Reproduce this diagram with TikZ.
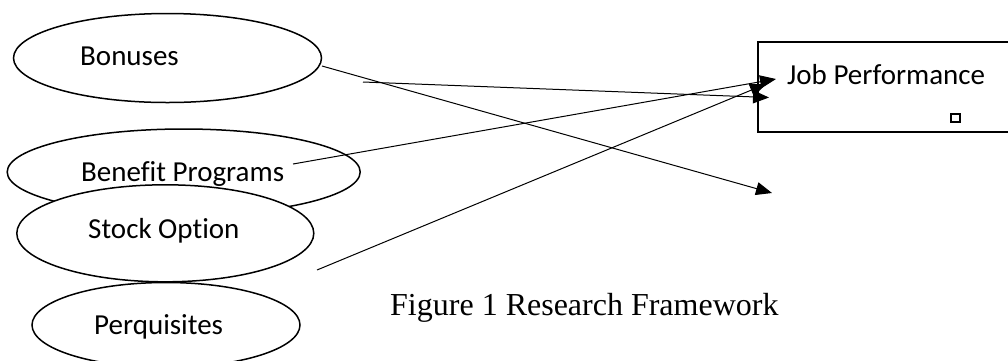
\documentclass[tikz,border=0pt]{standalone}
\usepackage{fontspec}
\setmainfont{Liberation Serif}
\newfontfamily\calib[Ligatures=NoCommon]{Carlito}
\usetikzlibrary{shapes.geometric,arrows.meta}
\begin{document}
\begin{tikzpicture}[x=1pt,y=-1pt,
  oval/.style={ellipse,draw,line width=1.5pt,fill=white,inner sep=0pt},
  lbl/.style={anchor=base west,inner sep=0pt,font=\calib\fontsize{29}{34}\selectfont},
  link/.style={line width=1pt,-{Triangle[length=16pt,width=13pt]}}]
\useasboundingbox (0,0) rectangle (1008,360);
\clip (0,0) rectangle (1008,360);
% ovals
\node[oval,minimum width=353pt,minimum height=86pt] (ben) at (183.7,172) {};
\node[oval,minimum width=297pt,minimum height=97pt] (sto) at (165.3,233.3) {};
\node[oval,minimum width=268pt,minimum height=85pt] (per) at (166,325) {};
\node[oval,minimum width=308pt,minimum height=89pt] (bon) at (167.5,58) {};
% box
\node[draw,line width=1.6pt,minimum width=260pt,minimum height=90pt,inner sep=0pt,anchor=north west] (box) at (757,41) {};
\node[draw,line width=2pt,minimum size=8.5pt,inner sep=0pt] (sq) at (955.5,118) {};
% texts
\node[lbl] (tbon) at (80,65) {Bonuses};
\node[lbl] (tben) at (81,181) {Benefit Programs};
\node[lbl] (tsto) at (88,238) {Stock Option};
\node[lbl] (tper) at (94,334) {Perquisites};
\node[lbl] (tjob) at (787,84) {Job Performance};
\node[anchor=base west,inner sep=0pt,font=\fontsize{32}{38}\selectfont] (cap) at (390,315) {Figure 1 Research Framework};
% connector ends
\coordinate (a0) at (322,66);  \coordinate (a1) at (772,193);
\coordinate (b0) at (363,82);  \coordinate (b1) at (769,97.5);
\coordinate (c0) at (293,164); \coordinate (c1) at (776,79);
\coordinate (d0) at (317,270); \coordinate (d1) at (766,84);
\draw[link] (a0) -- (a1);
\draw[link] (b0) -- (b1);
\draw[link] (c0) -- (c1);
\draw[link] (d0) -- (d1);
\end{tikzpicture}
\end{document}
